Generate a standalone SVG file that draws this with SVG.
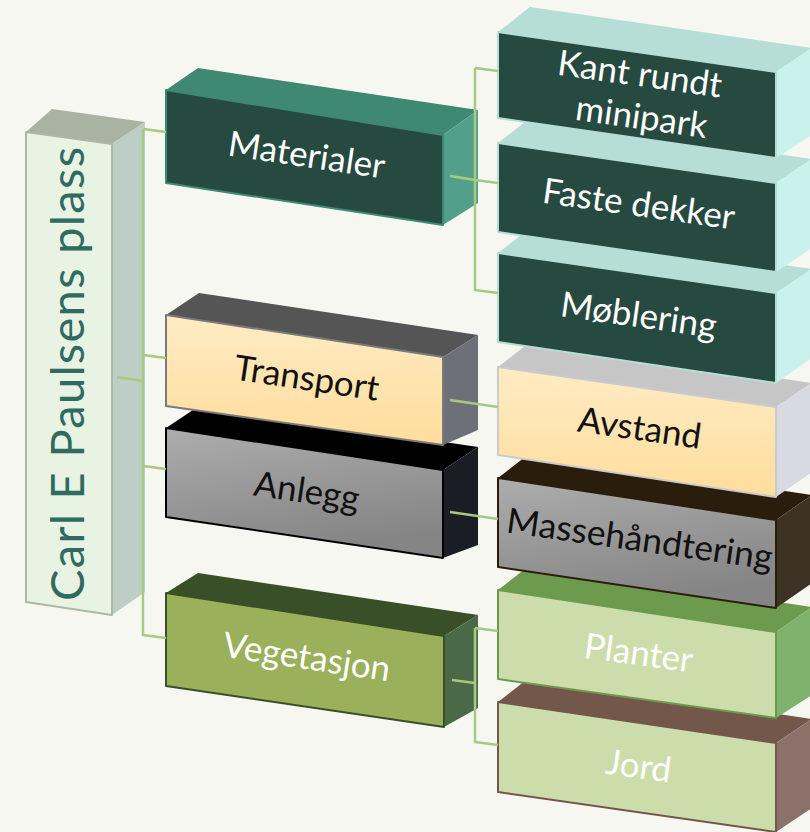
<svg xmlns="http://www.w3.org/2000/svg" width="810" height="832" viewBox="0 0 810 832">
<defs>
<linearGradient id="gy" x1="0" y1="0" x2="0" y2="1"><stop offset="0" stop-color="#FFEBC4"/><stop offset="1" stop-color="#FFDD9C"/></linearGradient>
<linearGradient id="gg" x1="0" y1="0" x2="0.3" y2="1"><stop offset="0" stop-color="#ADADAD"/><stop offset="1" stop-color="#858585"/></linearGradient>
</defs>
<style>
.t{font-family:Lato,"Liberation Sans",sans-serif;font-size:35px;text-anchor:middle}
.w{fill:#FFFFFF}
.k{fill:#111111}
.f{stroke-width:2;stroke-linejoin:round}
</style>
<rect width="810" height="832" fill="#F7F7F2"/>

<g id="root">
<polygon points="26,132 52,109 145,122 112,144" fill="#A9B3A1"/>
<polygon points="112,144 145,122 145,592 112,615" fill="#BDCEC4"/>
<polygon class="f" points="26,132 112,144 112,615 26,602" fill="#E8F3E3" stroke="#AAB9A4"/>
<text transform="translate(84,374) rotate(-90)" style="font-family:Lato,'Liberation Sans',sans-serif;font-size:47px;text-anchor:middle" fill="#2F6B5E" textLength="454" lengthAdjust="spacing">Carl E Paulsens plass</text>
</g>

<g id="vegetasjon">
<polygon points="166,593 198,573 478,615 444,636" fill="#394F27"/>
<polygon points="444,636 478,615 478,708 444,727" fill="#4A6946"/>
<polygon class="f" points="166,593 444,636 444,727 166,686" fill="#9BB05B" stroke="#394F27"/>
<text class="t w" transform="translate(305,669) rotate(8.5)">Vegetasjon</text>
</g>
<g id="anlegg">
<polygon points="166,428 199,406 478,447 443,470" fill="#000000"/>
<polygon points="443,470 478,447 478,545 443,558" fill="#1A1E24"/>
<polygon class="f" points="166,428 443,470 443,558 166,517" fill="url(#gg)" stroke="#000000"/>
<text class="t k" transform="translate(305,503) rotate(8.5)">Anlegg</text>
</g>
<g id="transport">
<polygon points="166,315 199,293 478,335 443,357" fill="#555555"/>
<polygon points="443,357 478,335 478,430 443,445" fill="#6D7077"/>
<polygon class="f" points="166,315 443,357 443,445 166,406" fill="url(#gy)" stroke="#7A7A7A"/>
<text class="t k" transform="translate(305,390) rotate(8.5)">Transport</text>
</g>
<g id="materialer">
<polygon points="166,90 198,68 478,110 443,135" fill="#3F8872"/>
<polygon points="443,135 478,110 478,203 443,225" fill="#52A08C"/>
<polygon class="f" points="166,90 443,135 443,225 166,183" fill="#264A40" stroke="#3F8872"/>
<text class="t w" transform="translate(305,167) rotate(8.5)">Materialer</text>
</g>

<g id="jord">
<polygon points="498,702 530,677 812,719 776,743" fill="#73574A"/>
<polygon points="776,743 812,719 812,808 776,832" fill="#8A7169"/>
<polygon class="f" points="498,702 776,743 776,832 498,792" fill="#CCDDAB" stroke="#73574A"/>
<text class="t w" transform="translate(637,778) rotate(8)">Jord</text>
</g>
<g id="planter">
<polygon points="498,590 530,565 812,607 776,632" fill="#6C9B4D"/>
<polygon points="776,632 812,607 812,695 776,718" fill="#7FB26D"/>
<polygon class="f" points="498,590 776,632 776,718 498,679" fill="#CCDDAB" stroke="#6C9B4D"/>
<text class="t w" transform="translate(637,665) rotate(8)">Planter</text>
</g>
<g id="massehandtering">
<polygon points="498,478 530,453 812,495 776,520" fill="#2B1D0C"/>
<polygon points="776,520 812,495 812,583 776,608" fill="#3C3324"/>
<polygon class="f" points="498,478 776,520 776,608 498,567" fill="url(#gg)" stroke="#2B1D0C"/>
<text class="t k" transform="translate(638,551) rotate(8)" textLength="268" lengthAdjust="spacingAndGlyphs">Massehåndtering</text>
</g>
<g id="avstand">
<polygon points="498,367 530,342 812,383 776,407" fill="#C6C6C6"/>
<polygon points="776,407 812,383 812,472 776,497" fill="#D7DAE0"/>
<polygon class="f" points="498,367 776,407 776,497 498,455" fill="url(#gy)" stroke="#CACACA"/>
<text class="t k" transform="translate(638,440) rotate(8)">Avstand</text>
</g>
<g id="moblering">
<polygon points="498,253 530,228 812,269 776,293" fill="#B6DED6"/>
<polygon points="776,293 812,269 812,358 776,383" fill="#C9F2EC"/>
<polygon class="f" points="498,253 776,293 776,383 498,342" fill="#264A40" stroke="#B6DED6"/>
<text class="t w" transform="translate(637,327) rotate(8)">Møblering</text>
</g>
<g id="faste-dekker">
<polygon points="498,143 530,118 812,159 776,183" fill="#B6DED6"/>
<polygon points="776,183 812,159 812,248 776,272" fill="#C9F2EC"/>
<polygon class="f" points="498,143 776,183 776,272 498,232" fill="#264A40" stroke="#B6DED6"/>
<text class="t w" transform="translate(637,216) rotate(8)">Faste dekker</text>
</g>
<g id="kant-rundt-minipark">
<polygon points="498,32 530,7 812,48 776,72" fill="#B6DED6"/>
<polygon points="776,72 812,48 812,135 776,158" fill="#C9F2EC"/>
<polygon class="f" points="498,32 776,72 776,158 498,118" fill="#264A40" stroke="#B6DED6"/>
<text class="t w" transform="translate(638,86) rotate(8)">Kant rundt</text>
<text class="t w" transform="translate(640,129) rotate(8)">minipark</text>
</g>

<g id="connectors" fill="none" stroke="#A9C983" stroke-width="2.5">
<path d="M117,377 L143,381"/>
<path d="M143,129 L143,636"/>
<path d="M143,129 L166,132"/>
<path d="M143,355 L166,358"/>
<path d="M143,466 L166,469"/>
<path d="M143,635 L166,638"/>
<path d="M450,176 L475,180 L498,183"/>
<path d="M475,68 L475,291"/>
<path d="M475,68 L498,71"/>
<path d="M475,290 L498,293"/>
<path d="M450,400 L498,407"/>
<path d="M450,512 L498,519"/>
<path d="M452,680 L475,683"/>
<path d="M475,628 L475,743"/>
<path d="M475,628 L498,631"/>
<path d="M475,742 L498,745"/>
</g>
</svg>
